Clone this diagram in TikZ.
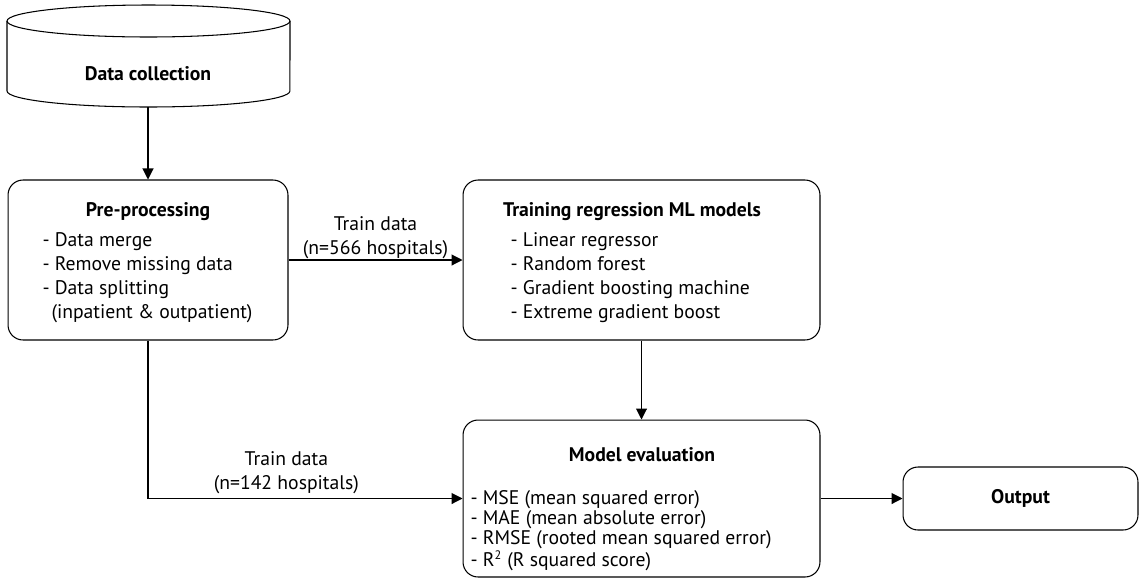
\documentclass[tikz,border=0pt]{standalone}
\usepackage{fontspec}
\setmainfont{PT Sans}
\usetikzlibrary{arrows.meta}

\begin{document}
\begin{tikzpicture}[x=0.02cm, y=-0.02cm, line width=0.6pt,
                    font=\fontsize{11.2}{13.7}\selectfont,
                    proc box/.style={draw,rounded corners=0.3cm,inner sep=0pt},
                    head text/.style={font=\fontsize{11.2}{13.7}\selectfont\bfseries},
                    list text/.style={align=left,inner sep=0pt,anchor=west},
                    flow/.style={-{Triangle[length=0.22cm,width=0.22cm]}}]
    \useasboundingbox (0,0) rectangle (1142,579);

    % data store drawn as a cylinder
    \draw (7,21) -- (7,91) arc[start angle=180,end angle=360,x radius=2.83cm,y radius=0.32cm] -- (290,21);
    \draw (148.5,21) ellipse [x radius=2.83cm,y radius=0.32cm];
    \node[head text] (dc) at (148,74) {Data collection};
    \coordinate (dcbot) at (148,107);

    \node[proc box,minimum width=5.6cm,minimum height=3.2cm] (pre) at (148,260) {};
    \node[head text] (pretitle) at (148,212) {Pre-processing};
    \node[list text] (prelist) at (42,277.5) {- Data merge\\- Remove missing data\\- Data splitting\\\hspace*{0.18cm}(inpatient \& outpatient)};

    \node[proc box,minimum width=7.14cm,minimum height=3.2cm] (trn) at (641.5,260) {};
    \node[head text] (trntitle) at (632,212) {Training regression ML models};
    \node[list text] (trnlist) at (510,277.5) {- Linear regressor\\- Random forest\\- Gradient boosting machine\\- Extreme gradient boost};

    \node[proc box,minimum width=7.14cm,minimum height=3.14cm] (evl) at (641.5,498.5) {};
    \node[head text] (evltitle) at (642,455) {Model evaluation};
    \node[list text,font=\fontsize{11.2}{11.4}\selectfont] (evllist) at (470,531) {- MSE (mean squared error)\\- MAE (mean absolute error)\\- RMSE (rooted mean squared error)\\- R\textsuperscript{\scriptsize 2} (R squared score)};

    \node[proc box,head text,minimum width=4.7cm,minimum height=1.26cm] (out) at (1020.5,498.5) {Output};

    \path[flow]
    (dcbot) edge (pre.north)
    (pre) edge node [above=-2.8pt,align=center] {Train data\\(n=566 hospitals)} (trn)
    (trn) edge (evl)
    (evl) edge (out);
    \draw[flow] (pre.south) |- node [pos=0.72,above=-0.8pt,align=center] {Train data\\(n=142 hospitals)} (evl.west);
\end{tikzpicture}
\end{document}
